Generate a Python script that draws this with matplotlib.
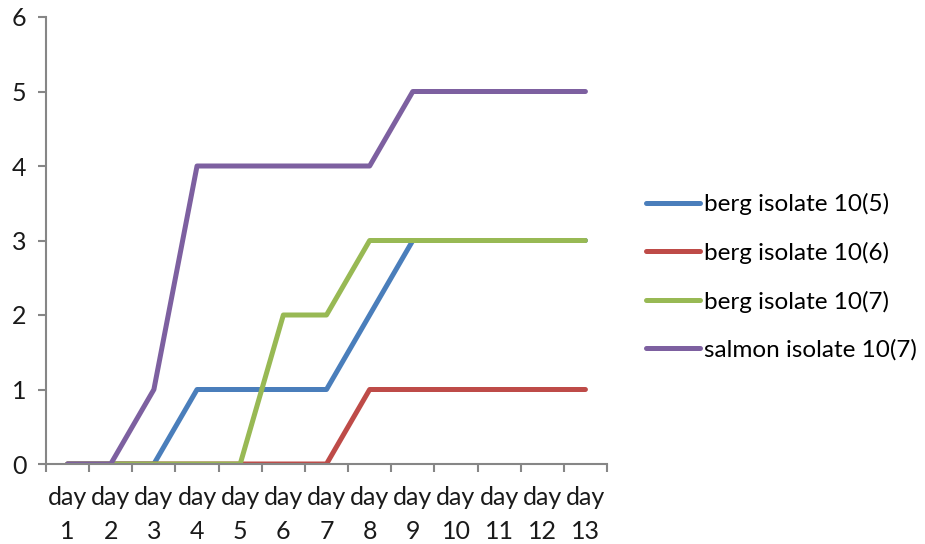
import matplotlib
matplotlib.use("Agg")
import matplotlib.pyplot as plt
import numpy as np

days = [f"day\n{i}" for i in range(1, 14)]
berg_10_5 = [0, 0, 0, 1, 1, 1, 1, 2, 3, 3, 3, 3, 3]
berg_10_6 = [0, 0, 0, 0, 0, 0, 0, 1, 1, 1, 1, 1, 1]
berg_10_7 = [0, 0, 0, 0, 0, 2, 2, 3, 3, 3, 3, 3, 3]
salmon_10_7 = [0, 0, 1, 4, 4, 4, 4, 4, 5, 5, 5, 5, 5]

series = [
    ("berg isolate 10(5)", berg_10_5, "#4A7EBB"),
    ("berg isolate 10(6)", berg_10_6, "#BE4B48"),
    ("berg isolate 10(7)", berg_10_7, "#98B954"),
    ("salmon isolate 10(7)", salmon_10_7, "#7D60A0"),
]

plt.rcParams["font.family"] = ["Lato", "DejaVu Sans"]

fig = plt.figure(figsize=(9.25, 5.44), dpi=100)
ax = fig.add_axes([46 / 925, 80 / 544, (607 - 46) / 925, (464 - 17) / 544])

x = np.arange(1, len(days) + 1)
for label, vals, color in series:
    ax.plot(x, vals, color=color, lw=3.6, label=label, solid_capstyle="round",
            solid_joinstyle="round")

axis_color = "#868686"
ax.set_xlim(0.5, len(days) + 0.5)
ax.set_ylim(0, 6)
ax.set_yticks(range(0, 7))
ax.spines["top"].set_visible(False)
ax.spines["right"].set_visible(False)
for s in ("left", "bottom"):
    ax.spines[s].set_color(axis_color)
    ax.spines[s].set_linewidth(1.5)

# boundary ticks between categories, labels centred on each category
ax.set_xticks(np.arange(0.5, len(days) + 1, 1.0))
ax.set_xticklabels([])
ax.set_xticks(x, minor=True)
ax.set_xticklabels(days, minor=True, fontsize=18, color="#1a1a1a", linespacing=1.55)
ax.tick_params(axis="x", which="major", direction="out", length=6, width=1.5,
               color=axis_color)
ax.tick_params(axis="x", which="minor", length=0, pad=16)
ax.tick_params(axis="y", direction="out", length=6, width=1.5, color=axis_color,
               labelsize=18, labelcolor="#1a1a1a", pad=8)

fig.legend(loc="center left", bbox_to_anchor=(636 / 925, 1 - 277 / 544),
           frameon=False, fontsize=17.5, handlelength=2.25, handletextpad=0.16,
           labelspacing=1.1, borderaxespad=0)

fig.savefig("out.png", dpi=100, facecolor="white")
